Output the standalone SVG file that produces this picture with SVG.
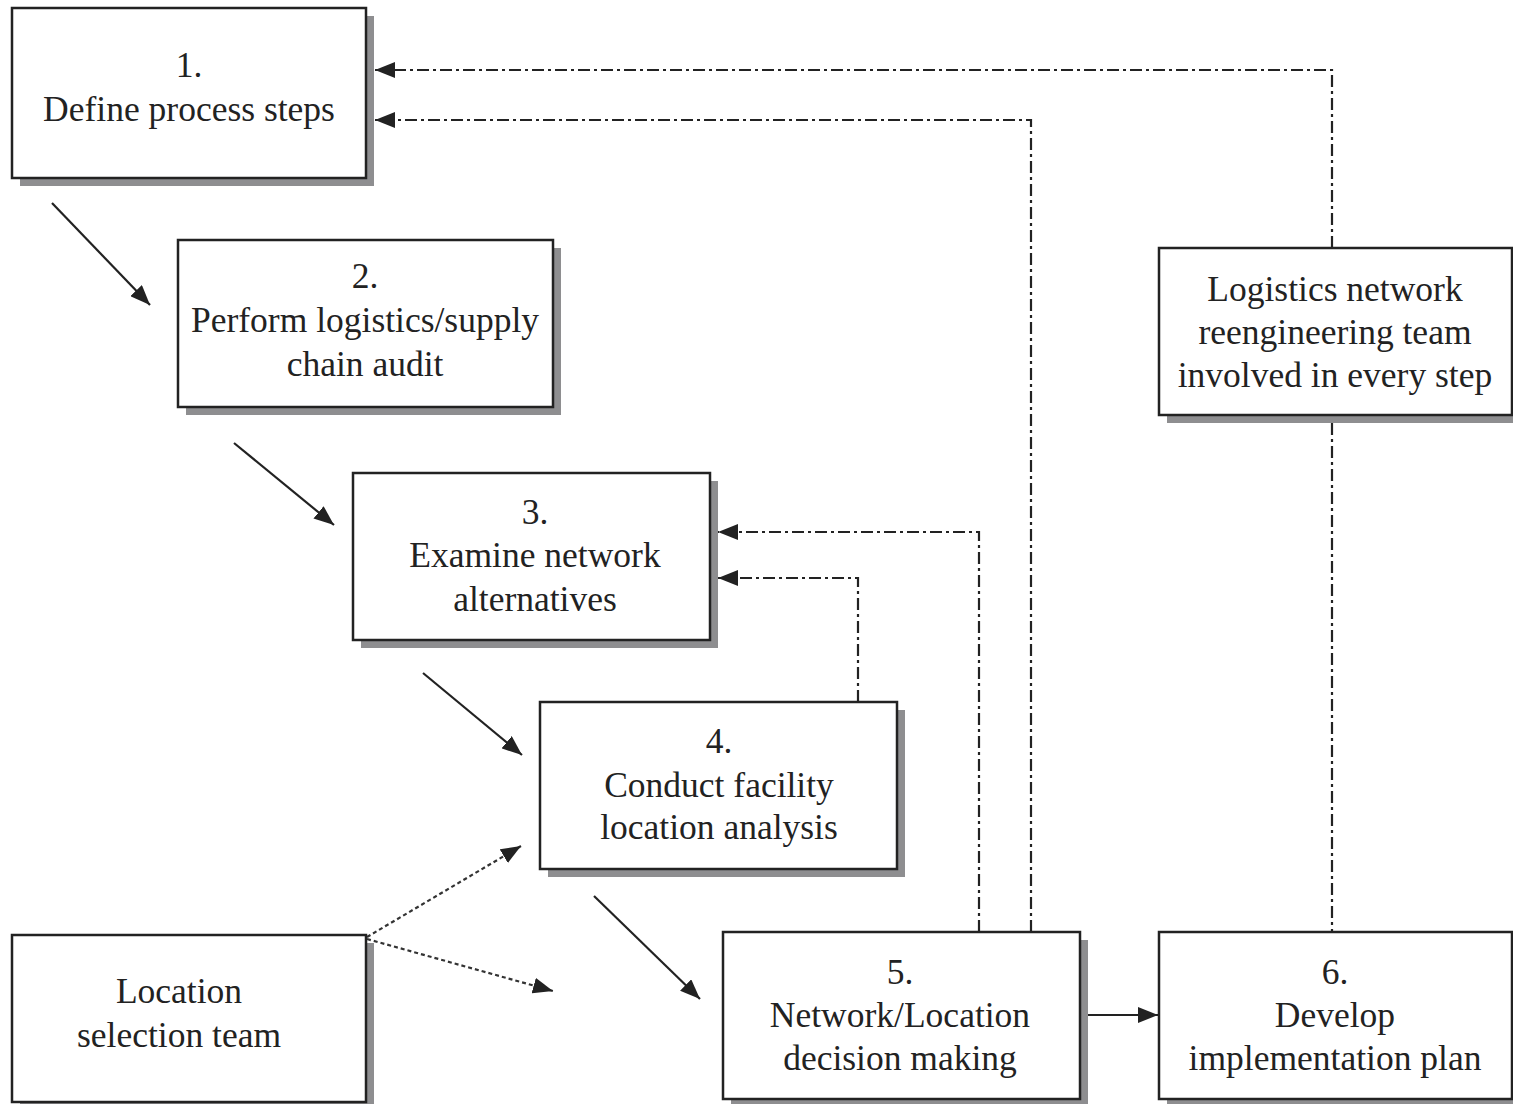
<svg xmlns="http://www.w3.org/2000/svg" width="1513" height="1104" viewBox="0 0 1513 1104">
<style>
.box{fill:#fff;stroke:#222;stroke-width:2.5}
.sh{fill:#8e8e90}
.t{font-family:"Liberation Serif","Times New Roman",serif;font-size:35.5px;fill:#222;text-anchor:middle}
.solid{stroke:#222;stroke-width:2.2;fill:none}
.dd{stroke:#222;stroke-width:2.2;fill:none;stroke-dasharray:12 4 3 4}
.dot{stroke:#333;stroke-width:2.2;fill:none;stroke-dasharray:4 3}
</style>
<defs>
<marker id="ah" viewBox="0 0 20 16" refX="20" refY="8" markerWidth="20" markerHeight="16" markerUnits="userSpaceOnUse" orient="auto">
<path d="M0,0 L20,8 L0,16 Z" fill="#222"/>
</marker>
</defs>
<rect width="1513" height="1104" fill="#fff"/>
<g id="connectors">
<polyline class="dd" points="1332,248 1332,70 375,70" marker-end="url(#ah)"/>
<polyline class="dd" points="1031,932 1031,120 375,120" marker-end="url(#ah)"/>
<polyline class="dd" points="979,932 979,532 718,532" marker-end="url(#ah)"/>
<polyline class="dd" points="858,702 858,578 718,578" marker-end="url(#ah)"/>
<line class="dd" x1="1332" y1="423" x2="1332" y2="932"/>
<line class="solid" x1="52" y1="203" x2="150" y2="305" marker-end="url(#ah)"/>
<line class="solid" x1="234" y1="443" x2="334" y2="525" marker-end="url(#ah)"/>
<line class="solid" x1="423" y1="673" x2="522" y2="755" marker-end="url(#ah)"/>
<line class="solid" x1="594" y1="896" x2="700" y2="999" marker-end="url(#ah)"/>
<line class="dot" x1="367" y1="937" x2="521" y2="846" marker-end="url(#ah)"/>
<line class="dot" x1="367" y1="939" x2="553" y2="991" marker-end="url(#ah)"/>
<line class="solid" x1="1088" y1="1015" x2="1158" y2="1015" marker-end="url(#ah)"/>
</g>
<g id="n1">
<rect class="sh" x="20" y="16" width="354" height="170"/>
<rect class="box" x="12" y="8" width="354" height="170"/>
<text class="t" x="189" y="77">1.</text>
<text class="t" x="189" y="121">Define process steps</text>
</g>
<g id="n2">
<rect class="sh" x="186" y="248" width="375" height="167"/>
<rect class="box" x="178" y="240" width="375" height="167"/>
<text class="t" x="365" y="288">2.</text>
<text class="t" x="365" y="332">Perform logistics/supply</text>
<text class="t" x="365" y="376">chain audit</text>
</g>
<g id="n3">
<rect class="sh" x="361" y="481" width="357" height="167"/>
<rect class="box" x="353" y="473" width="357" height="167"/>
<text class="t" x="535" y="524">3.</text>
<text class="t" x="535" y="567">Examine network</text>
<text class="t" x="535" y="611">alternatives</text>
</g>
<g id="n4">
<rect class="sh" x="548" y="710" width="357" height="167"/>
<rect class="box" x="540" y="702" width="357" height="167"/>
<text class="t" x="719" y="753">4.</text>
<text class="t" x="719" y="797">Conduct facility</text>
<text class="t" x="719" y="839">location analysis</text>
</g>
<g id="n5">
<rect class="sh" x="731" y="940" width="357" height="167"/>
<rect class="box" x="723" y="932" width="357" height="167"/>
<text class="t" x="900" y="984">5.</text>
<text class="t" x="900" y="1027">Network/Location</text>
<text class="t" x="900" y="1070">decision making</text>
</g>
<g id="n6">
<rect class="sh" x="1167" y="940" width="353" height="167"/>
<rect class="box" x="1159" y="932" width="353" height="167"/>
<text class="t" x="1335" y="984">6.</text>
<text class="t" x="1335" y="1027">Develop</text>
<text class="t" x="1335" y="1070">implementation plan</text>
</g>
<g id="team">
<rect class="sh" x="1167" y="256" width="353" height="167"/>
<rect class="box" x="1159" y="248" width="353" height="167"/>
<text class="t" x="1335" y="301">Logistics network</text>
<text class="t" x="1335" y="344">reengineering team</text>
<text class="t" x="1335" y="387">involved in every step</text>
</g>
<g id="loc">
<rect class="sh" x="20" y="943" width="354" height="167"/>
<rect class="box" x="12" y="935" width="354" height="167"/>
<text class="t" x="179" y="1003">Location</text>
<text class="t" x="179" y="1047">selection team</text>
</g>
</svg>
